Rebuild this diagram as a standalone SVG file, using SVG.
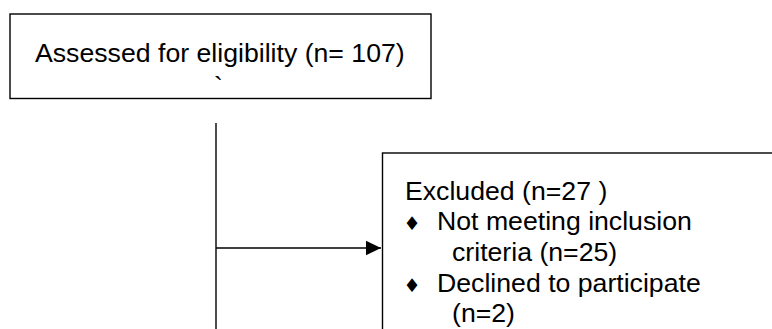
<svg xmlns="http://www.w3.org/2000/svg" width="772" height="329" viewBox="0 0 772 329">
<style>
  .box { fill: #ffffff; stroke: #000000; stroke-width: 1.4; }
  .t { font-family: "Liberation Sans", Arial, sans-serif; font-size: 26.67px; fill: #000000; }
  .bul { font-family: "DejaVu Sans", sans-serif; font-size: 19px; fill: #000000; }
  .conn { stroke: #000000; stroke-width: 1.4; fill: none; }
</style>
<defs>
  <marker id="arrow" markerUnits="userSpaceOnUse" markerWidth="16" markerHeight="16" refX="15" refY="8" orient="auto">
    <path d="M0,0.8 L15,8 L0,15.2 Z" fill="#000000"/>
  </marker>
</defs>
<rect width="772" height="329" fill="#ffffff"/>
<g id="connectors">
  <line class="conn" x1="216" y1="123" x2="216" y2="329"/>
  <line class="conn" x1="216" y1="248" x2="381" y2="248" marker-end="url(#arrow)"/>
</g>
<g id="node-assessed">
  <rect class="box" x="10" y="14" width="421" height="84.5"/>
  <text class="t" x="35" y="62">Assessed for eligibility (n= 107)</text>
  <text class="t" x="214" y="95">`</text>
</g>
<g id="node-excluded">
  <rect class="box" x="382.5" y="153" width="420" height="200"/>
  <text class="t" x="405" y="200">Excluded (n=27 )</text>
  <text class="bul" x="403.5" y="230">♦</text>
  <text class="t" x="437" y="230">Not meeting inclusion</text>
  <text class="t" x="452" y="260.5">criteria (n=25)</text>
  <text class="bul" x="403.5" y="292">♦</text>
  <text class="t" x="437" y="292">Declined to participate</text>
  <text class="t" x="452" y="322">(n=2)</text>
</g>
</svg>
